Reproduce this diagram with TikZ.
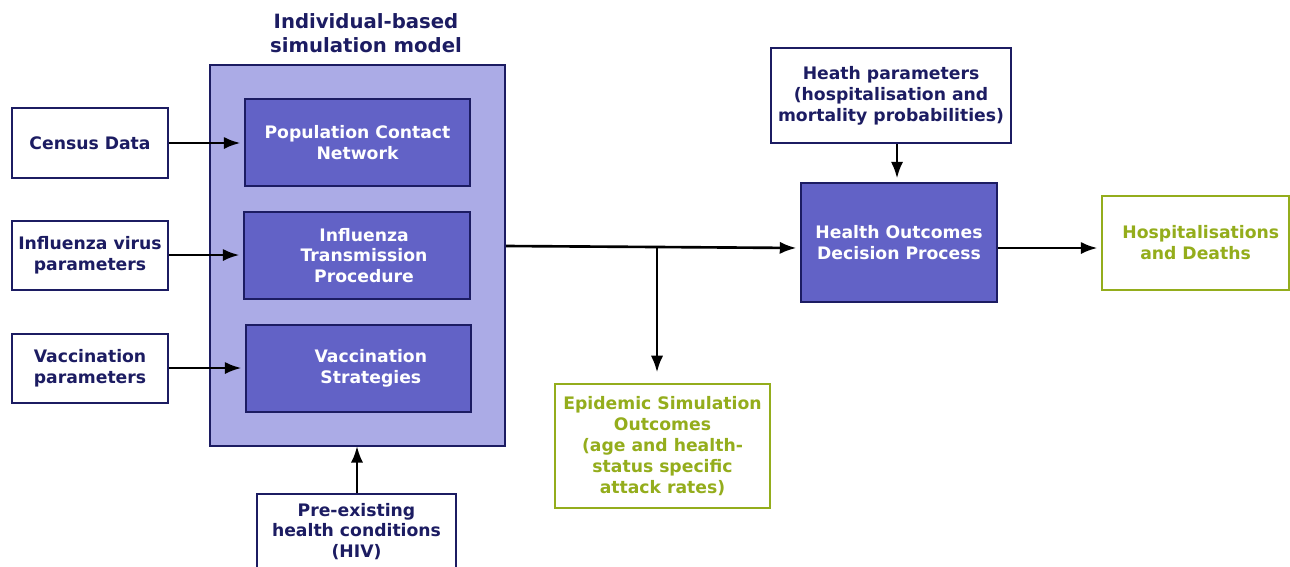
\documentclass[tikz,border=0pt]{standalone}
\usepackage{fontspec}
\setmainfont{DejaVu Sans}
\usetikzlibrary{arrows.meta}
\definecolor{navy}{HTML}{1C1C62}
\definecolor{boxblue}{HTML}{6262C6}
\definecolor{lightblue}{HTML}{ABABE6}
\definecolor{olive}{HTML}{94AD1C}
\begin{document}
\begin{tikzpicture}[x=0.02cm,y=-0.02cm,
    font=\bfseries\fontsize{9.8}{11.9}\selectfont,
    inbox/.style={draw=navy,line width=1.2pt,fill=white,text=navy,align=center,inner sep=2pt},
    simbox/.style={draw=navy,line width=1.2pt,fill=boxblue,text=white,align=center,inner sep=2pt},
    outbox/.style={draw=olive,line width=1.2pt,fill=white,text=olive,align=center,inner sep=2pt},
    link/.style={-{Latex[length=9.5pt,width=7pt]},line width=1.5pt,shorten >=2pt}]
    \useasboundingbox (0,0) rectangle (1290,566);
    \clip (0,0) rectangle (1290,566);
    % simulation model
    \node[draw=navy,line width=1.2pt,fill=lightblue,minimum width=5.9cm,minimum height=7.62cm] (model) at (357.5,255.5) {};
    \node[text=navy,align=center,font=\bfseries\fontsize{11.2}{13.4}\selectfont] (title) at (366,33) {Individual-based\\simulation model};
    \node[simbox,minimum width=4.5cm,minimum height=1.74cm] (pop) at (357.5,142.5) {Population Contact\\Network};
    \node[simbox,minimum width=4.52cm,minimum height=1.74cm] (trans) at (357,255.5) {\hspace{8pt}Influenza\\\hspace{8pt}Transmission\\\hspace{8pt}Procedure};
    \node[simbox,minimum width=4.5cm,minimum height=1.74cm] (strat) at (358.5,368.5) {\hspace{14pt}Vaccination\\\hspace{14pt}Strategies};
    % inputs
    \node[inbox,minimum width=3.12cm,minimum height=1.4cm] (census) at (90,143) {Census Data};
    \node[inbox,minimum width=3.12cm,minimum height=1.38cm] (virus) at (90,255.5) {Influenza virus\\parameters};
    \node[inbox,minimum width=3.12cm,minimum height=1.38cm] (vacc) at (90,368.5) {Vaccination\\parameters};
    \node[inbox,minimum width=3.98cm,minimum height=1.5cm,anchor=north] (hiv) at (356.5,493) {Pre-existing\\health conditions\\(HIV)};
    \node[inbox,minimum width=4.8cm,minimum height=1.9cm] (heath) at (891,95.5) {Heath parameters\\(hospitalisation and\\mortality probabilities)};
    % outcomes
    \node[simbox,minimum width=3.92cm,minimum height=2.38cm] (decision) at (899,242.5) {Health Outcomes\\Decision Process};
    \node[outbox,minimum width=4.3cm,minimum height=2.48cm] (epi) at (662.5,446) {Epidemic Simulation\\Outcomes\\(age and health-\\status specific\\attack rates)};
    \node[outbox,minimum width=3.74cm,minimum height=1.88cm] (hosp) at (1195.5,243) {\hspace{6pt}Hospitalisations\\and Deaths};
    % connectors
    \draw[link] (census.east |- 0,143) -- (pop.west |- 0,143);
    \draw[link] (virus.east |- 0,255) -- (trans.west |- 0,255);
    \draw[link] (vacc.east |- 0,368) -- (strat.west |- 0,368);
    \draw[link,shorten >=0pt] (357,493) -- (357,446);
    \coordinate (split) at (657,247);
    \draw[link] (model.east |- 0,246) -- (split) -- (decision.west |- 0,248);
    \draw[link,shorten >=6pt] (split) -- (split |- epi.north);
    \draw[link] (heath.south -| 897,0) -- (decision.north -| 897,0);
    \draw[link] (decision.east |- 0,248) -- (hosp.west |- 0,248);
\end{tikzpicture}
\end{document}
